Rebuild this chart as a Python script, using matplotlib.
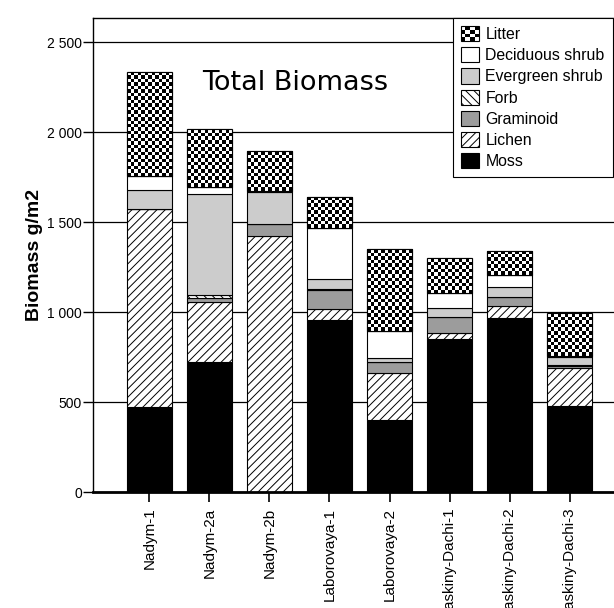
import numpy as np
import matplotlib
matplotlib.use("Agg")
import matplotlib.pyplot as plt
from matplotlib.patches import Patch, Rectangle
from matplotlib.legend_handler import HandlerBase
from matplotlib.ticker import FuncFormatter

plt.rcParams['font.family'] = ['Liberation Sans', 'DejaVu Sans']
plt.rcParams['hatch.linewidth'] = 0.7

# sites and biomass per group (g/m2), stacked bottom -> top
sites = ["Nadym-1", "Nadym-2a", "Nadym-2b", "Laborovaya-1", "Laborovaya-2",
         "Vaskiny-Dachi-1", "Vaskiny-Dachi-2", "Vaskiny-Dachi-3"]
moss = [476, 726, 0, 957, 402, 852, 967, 479]
lichen = [1098, 330, 1424, 60, 262, 35, 68, 210]
graminoid = [0, 25, 68, 105, 58, 85, 52, 15]
forb = [0, 15, 0, 6, 0, 0, 0, 4]
evergreen = [105, 561, 176, 55, 26, 50, 52, 46]
deciduous = [80, 41, 7, 284, 150, 84, 68, 3]
litter = [574, 320, 221, 175, 454, 194, 135, 237]

layers = [
    ("Moss", moss, "black", ""),
    ("Lichen", lichen, "white", "////"),
    ("Graminoid", graminoid, "#9c9c9c", ""),
    ("Forb", forb, "white", "\\\\\\\\"),
    ("Evergreen shrub", evergreen, "#cccccc", ""),
    ("Deciduous shrub", deciduous, "white", ""),
    ("Litter", litter, "white", ""),
]

fig = plt.figure(figsize=(6.14, 6.08), dpi=100)
ax = fig.add_axes([93 / 614, 1 - 492.3 / 608, 533 / 614, 474.3 / 608])
ax.set_xlim(-0.94, 7.94)
ax.set_ylim(0, 2635)


def checker(rect, cell=3.5):
    # checkerboard fill clipped to a bar (no checker hatch in matplotlib)
    x0, y0 = rect.get_x(), rect.get_y()
    w, h = rect.get_width(), rect.get_height()
    p0 = ax.transData.transform((x0, y0))
    p1 = ax.transData.transform((x0 + w, y0 + h))
    nx = max(1, int(round((p1[0] - p0[0]) / cell)))
    ny = max(1, int(round((p1[1] - p0[1]) / cell)))
    ii, jj = np.indices((ny, nx))
    img = ((ii + jj) % 2).astype(float)
    im = ax.imshow(img, cmap="gray", vmin=0, vmax=1, extent=(x0, x0 + w, y0, y0 + h),
                   origin="lower", aspect="auto", interpolation="nearest", zorder=2.5)
    im.set_clip_path(rect)
    ax.add_patch(Rectangle((x0, y0), w, h, fill=False, ec="black", lw=0.8, zorder=3))


class CheckerHandler(HandlerBase):
    def create_artists(self, legend, orig_handle, xdescent, ydescent, width, height, fontsize, trans):
        x0, y0 = -xdescent, -ydescent
        n = 4
        arts = [Rectangle((x0, y0), width, height, fc="white", ec="none", transform=trans)]
        cw, ch = width / n, height / n
        for i in range(n):
            for j in range(n):
                if (i + j) % 2 == 0:
                    arts.append(Rectangle((x0 + i * cw, y0 + j * ch), cw, ch,
                                          fc="black", ec="none", transform=trans))
        arts.append(Rectangle((x0, y0), width, height, fill=False, ec="black", lw=0.8, transform=trans))
        return arts


x = np.arange(len(sites))
bottom = np.zeros(len(sites))
handles = {}
for name, vals, fc, hatch in layers:
    bars = ax.bar(x, vals, 0.75, bottom=bottom, color=fc, edgecolor="black",
                  linewidth=0.8, hatch=hatch, zorder=2)
    if name == "Litter":
        for b in bars:
            checker(b)
    bottom += np.array(vals)
    handles[name] = Patch(facecolor=fc, edgecolor="black", linewidth=0.8, hatch=hatch)

ax.set_xlim(-0.94, 7.94)
ax.set_ylim(0, 2635)

ax.set_xticks(x)
ax.set_xticklabels(sites, rotation=90, fontsize=11)
ax.set_yticks(range(0, 2501, 500))
ax.yaxis.set_major_formatter(FuncFormatter(lambda v, p: f"{int(v):,}".replace(",", " ")))
ax.tick_params(axis="y", labelsize=10, length=7, width=1, pad=1)
ax.tick_params(axis="x", length=7, width=1.2, pad=4)

ax.yaxis.grid(True, color="black", linewidth=0.9)
ax.set_axisbelow(True)
ax.spines["bottom"].set_linewidth(2)
ax.spines["left"].set_linewidth(1)
ax.spines["top"].set_linewidth(1)

ax.set_ylabel("Biomass g/m2", fontsize=14, fontweight="bold", va="center")
ax.yaxis.set_label_coords((34 - 93) / 533, 0.5)

ax.text(0.877, 2274, "Total Biomass", fontsize=19.5, family="DejaVu Sans", ha="left", va="center")

order = ["Litter", "Deciduous shrub", "Evergreen shrub", "Forb", "Graminoid", "Lichen", "Moss"]
leg = ax.legend([handles[n] for n in order], order, loc="upper left",
                bbox_to_anchor=(0.6754, 1.0), borderaxespad=0, fontsize=11.4,
                fancybox=False, edgecolor="black", framealpha=1,
                handlelength=1.15, handleheight=1.1, handletextpad=0.4,
                labelspacing=0.33, borderpad=0.5,
                handler_map={handles["Litter"]: CheckerHandler()})
leg.get_frame().set_linewidth(0.8)

fig.savefig("out.png", dpi=100)
